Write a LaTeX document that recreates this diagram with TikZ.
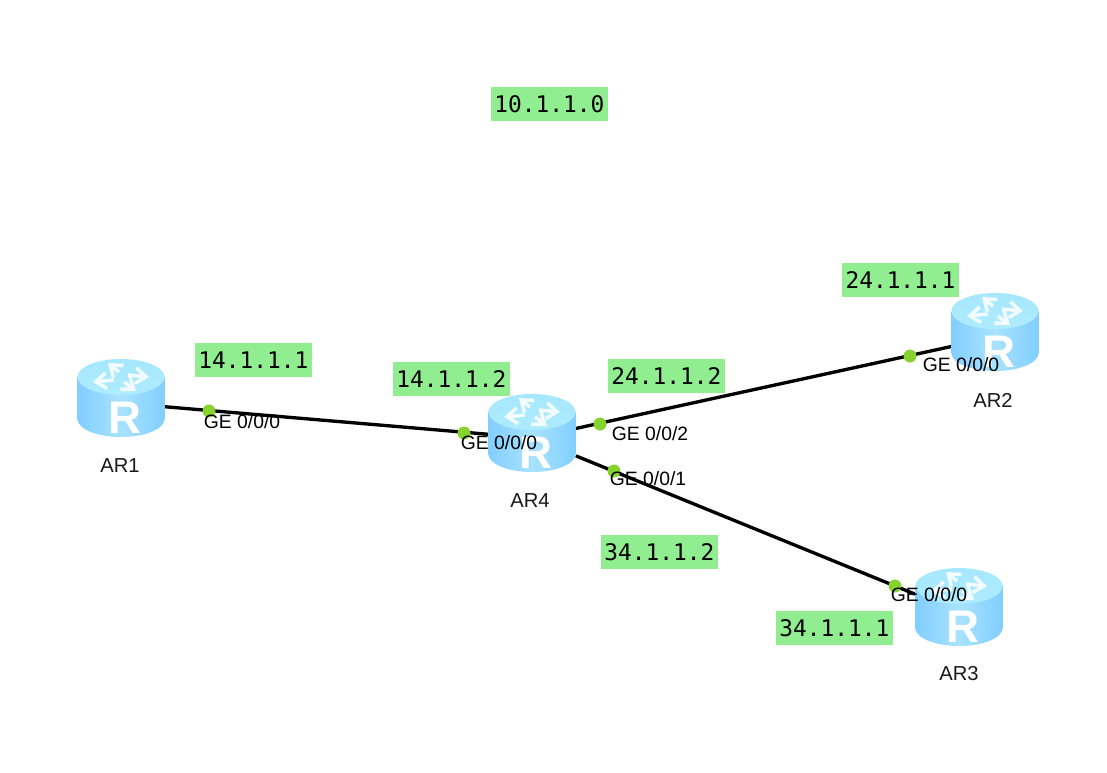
\documentclass[tikz,border=0pt]{standalone}
\usepackage{fontspec}
\usepackage{tikz}
\usetikzlibrary{arrows.meta}
\setmainfont{Liberation Sans}
\newfontfamily\ipfont{DejaVu Sans Mono}
\definecolor{ipgreen}{HTML}{90EE90}
\definecolor{portgreen}{HTML}{86D22E}
\definecolor{routerside}{HTML}{82CEFF}
\definecolor{routermid}{HTML}{A8E3FF}
\definecolor{routertop}{HTML}{A6E8FF}
\definecolor{routertopb}{HTML}{AEEBFF}
\tikzset{
    routerbox/.style={minimum width=87*0.02cm, minimum height=60*0.02cm, inner sep=0pt},
    iplabel/.style={fill=ipgreen, minimum width=117*0.02cm, minimum height=34*0.02cm, inner sep=0pt, font=\ipfont\fontsize{13}{13}\selectfont},
    portdot/.style={circle, fill=portgreen, minimum size=13*0.02cm, inner sep=0pt},
    portlabel/.style={font=\fontsize{11}{11}\selectfont, inner sep=0pt, text=black},
    routername/.style={font=\fontsize{11.5}{11.5}\selectfont, inner sep=0pt, text=black!90},
    link/.style={line width=1.9pt, black},
    router/.pic={
        % Body
        \shade[left color=routerside, right color=routerside, middle color=routermid] (-43.5,-26) rectangle (43.5,16);
        \shade[left color=routerside, right color=routerside, middle color=routermid] (0,16) ellipse [x radius=43.5, y radius=18];
        % Top
        \shade[top color=routertop, bottom color=routertopb] (0,-26) ellipse [x radius=43.5, y radius=18];
        % Arrows
        \foreach \tx/\ty/\hx/\hy in {7/-2/28/0, -7/3/-28/5, 3/5/15/14, -2/-5/-13/-14} {
            \draw[white!95!cyan, line width=2pt, -{Straight Barb[length=6pt, width=9pt]}]
                (\tx,-26+\ty) -- (\hx,-26+\hy);
        }
        % Letter
        \node[white, inner sep=0pt, font=\bfseries\fontsize{26}{26}\selectfont] at (4,15) {R};
    }
}
\begin{document}
\begin{tikzpicture}[x=0.02cm, y=-0.02cm]
    \useasboundingbox[fill=white] (0,0) rectangle (1107,772);

    % Routers
    \node[routerbox] (AR1) at (121,403) {};
    \node[routerbox] (AR4) at (532,438) {};
    \node[routerbox] (AR2) at (995,337) {};
    \node[routerbox] (AR3) at (959,612) {};

    % Links
    \draw[link] (AR1) -- (AR4);
    \draw[link] (AR4) -- (AR2);
    \draw[link] (AR4) -- (AR3);

    % Icons
    \foreach \r in {AR1,AR2,AR3,AR4} {
        \pic at (\r) {router};
    }

    % Port dots
    \node[portdot] (p1) at (209,411) {};
    \node[portdot] (p2) at (464,433) {};
    \node[portdot] (p3) at (600,424) {};
    \node[portdot] (p4) at (614,471) {};
    \node[portdot] (p5) at (910,356) {};
    \node[portdot] (p6) at (895,586) {};

    % Port labels
    \node[portlabel] (l1) at (242,422) {GE 0/0/0};
    \node[portlabel] (l2) at (499,443) {GE 0/0/0};
    \node[portlabel] (l3) at (650,434) {GE 0/0/2};
    \node[portlabel] (l4) at (648,479) {GE 0/0/1};
    \node[portlabel] (l5) at (961,365) {GE 0/0/0};
    \node[portlabel] (l6) at (929,595) {GE 0/0/0};

    % Router names
    \node[routername] (n1) at (120,466) {AR1};
    \node[routername] (n4) at (530,501) {AR4};
    \node[routername] (n2) at (993,400) {AR2};
    \node[routername] (n3) at (959,674) {AR3};

    % Addresses
    \node[iplabel] (a0) at (549.5,104) {10.1.1.0};
    \node[iplabel] (a1) at (253.5,360) {14.1.1.1};
    \node[iplabel] (a2) at (451.5,379) {14.1.1.2};
    \node[iplabel] (a3) at (666.5,376) {24.1.1.2};
    \node[iplabel] (a4) at (900.5,280) {24.1.1.1};
    \node[iplabel] (a5) at (659.5,552) {34.1.1.2};
    \node[iplabel] (a6) at (834.5,628) {34.1.1.1};
\end{tikzpicture}
\end{document}
